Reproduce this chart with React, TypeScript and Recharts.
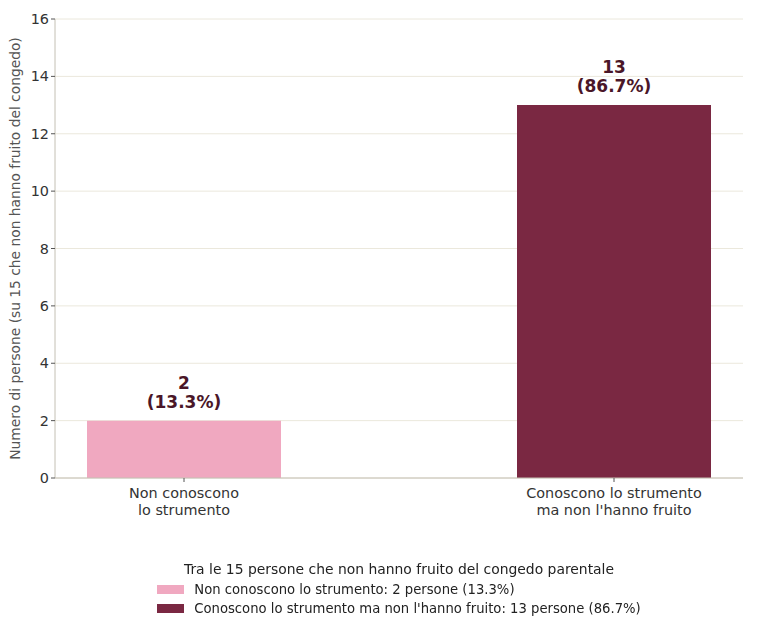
import { BarChart, Bar, XAxis, YAxis, CartesianGrid, Cell, LabelList, Label } from "recharts";

const categories = ["Non conoscono\nlo strumento", "Conoscono lo strumento\nma non l'hanno fruito"];
const positions = [0, 1];
const counts = [2, 13];
const percents = ["13.3%", "86.7%"];
const colors = ["#f0a8c0", "#7a2842"];
const legendTitle = "Tra le 15 persone che non hanno fruito del congedo parentale";
const legendNames = [
  "Non conoscono lo strumento: 2 persone (13.3%)",
  "Conoscono lo strumento ma non l'hanno fruito: 13 persone (86.7%)",
];
const yTicks = [0, 2, 4, 6, 8, 10, 12, 14, 16];

const data = positions.map((x, i) => ({ x, value: counts[i], pct: percents[i] }));

const FONT = "'DejaVu Sans', sans-serif";

function XTick({ x, y, payload }: any) {
  const idx = positions.indexOf(payload.value);
  const lines = (categories[idx] ?? "").split("\n");
  return (
    <text x={x} y={y} textAnchor="middle" fill="#333" fontSize={14.4} fontFamily={FONT}>
      {lines.map((l, i) => (
        <tspan key={i} x={x} dy={i === 0 ? 14 : 17}>
          {l}
        </tspan>
      ))}
    </text>
  );
}

function ValueLabel({ x, y, width, index }: any) {
  const cx = x + width / 2;
  return (
    <text x={cx} y={y - 32} textAnchor="middle" fill="#4a1628" fontSize={17} fontWeight="bold" fontFamily={FONT}>
      <tspan x={cx} dy={0}>{counts[index]}</tspan>
      <tspan x={cx} dy={19}>({percents[index]})</tspan>
    </text>
  );
}

export default function App() {
  return (
    <div style={{ position: "fixed", left: 0, top: 0, width: 768, height: 631, background: "#fff" }}>
      <BarChart width={768} height={631} data={data} margin={{ top: 19, right: 25, left: 10, bottom: 103 }}>
        <CartesianGrid horizontal vertical={false} stroke="#ebe8dc" />
        <XAxis
          dataKey="x"
          type="number"
          domain={[-0.3, 1.3]}
          ticks={positions}
          tick={<XTick />}
          tickSize={4}
          tickLine={{ stroke: "#555" }}
          axisLine={{ stroke: "#c4c0b4" }}
          height={50}
          interval={0}
        />
        <YAxis
          domain={[0, 16]}
          ticks={yTicks}
          width={45}
          tickSize={4}
          tickLine={{ stroke: "#555" }}
          axisLine={{ stroke: "#c4c0b4" }}
          tick={{ fill: "#333", fontSize: 14.4, fontFamily: FONT }}
        >
          <Label
            content={({ viewBox }: any) => {
              const cy = viewBox.y + viewBox.height / 2;
              return (
                <text
                  x={15}
                  y={cy}
                  transform={`rotate(-90 15 ${cy})`}
                  textAnchor="middle"
                  dominantBaseline="central"
                  fill="#555"
                  fontSize={13.8}
                  fontFamily={FONT}
                >
                  Numero di persone (su 15 che non hanno fruito del congedo)
                </text>
              );
            }}
          />
        </YAxis>
        <Bar dataKey="value" barSize={194} isAnimationActive={false}>
          {data.map((d, i) => (
            <Cell key={i} fill={colors[i]} />
          ))}
          <LabelList dataKey="value" content={<ValueLabel />} />
        </Bar>
      </BarChart>
      <div
        style={{
          position: "absolute",
          left: 0,
          width: 798,
          top: 560,
          fontFamily: FONT,
          color: "#222",
          display: "flex",
          flexDirection: "column",
          alignItems: "center",
        }}
      >
        <div style={{ fontSize: 13.9, lineHeight: "18px", marginBottom: 2 }}>{legendTitle}</div>
        <div style={{ fontSize: 13.2 }}>
          {legendNames.map((n, i) => (
            <div key={i} style={{ display: "flex", alignItems: "center", height: 19 }}>
              <span style={{ display: "inline-block", width: 27, height: 9, background: colors[i], marginRight: 10 }} />
              <span>{n}</span>
            </div>
          ))}
        </div>
      </div>
    </div>
  );
}
